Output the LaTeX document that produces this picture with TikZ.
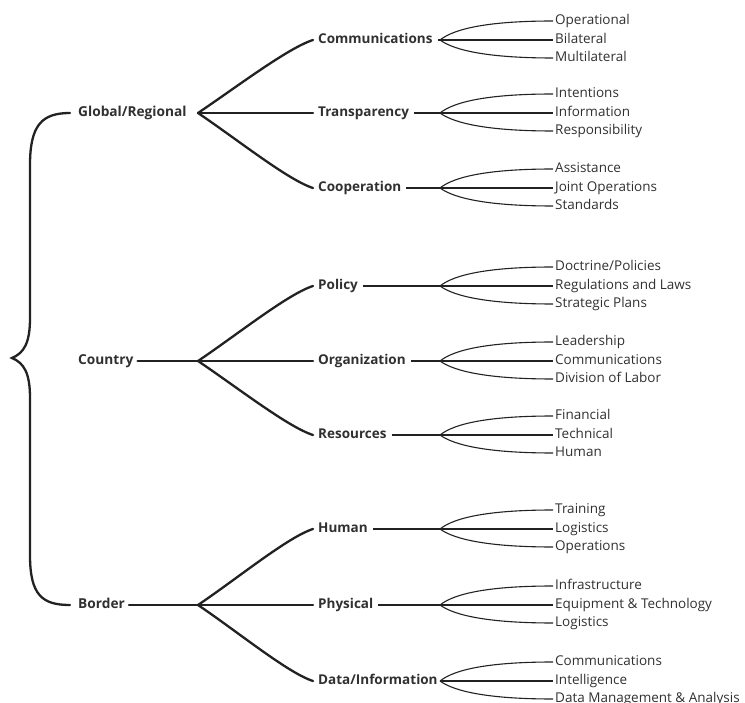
\documentclass[tikz,border=0pt]{standalone}
\usepackage{fontspec}
\setmainfont{Open Sans}
\definecolor{ink}{HTML}{222222}
\definecolor{txt}{HTML}{303030}
\newcommand\mygroup[6]{%
  \node[ltwo] (#1) at (313,#2) {#3};
  \coordinate (#1b) at (440,#2);
  \node[leaf] (#1x) at (553,#2-19) {#4};
  \node[leaf] (#1y) at (553,#2) {#5};
  \node[leaf] (#1z) at (553,#2+18) {#6};
  \draw[thin2] (#1.east) -- (#1b);
  \draw[thin2] (#1b) .. controls +(15,-12) and +(-62,0) .. (#1x.west);
  \draw[thin2] (#1b) -- (#1y.west);
  \draw[thin2] (#1b) .. controls +(15,11) and +(-62,0) .. (#1z.west);
}
\begin{document}
\begin{tikzpicture}[x=1pt,y=-1pt,
  lone/.style={font=\bfseries\fontsize{13.7}{15}\selectfont, text=txt, anchor=west, inner ysep=0pt, inner xsep=4pt, text height=7pt, text depth=0pt},
  ltwo/.style={font=\bfseries\fontsize{13.5}{15}\selectfont, text=txt, anchor=west, inner ysep=0pt, inner xsep=5pt, text height=7pt, text depth=0pt},
  leaf/.style={font=\fontsize{13.5}{15}\selectfont, text=txt, anchor=west, inner ysep=0pt, inner xsep=2pt, text height=7pt, text depth=0pt},
  thick1/.style={draw=ink, line width=2.3pt, line cap=round},
  thin2/.style={draw=ink, line width=1.1pt}]
\useasboundingbox (0,0) rectangle (745,703);
% level 1
\node[lone] (glob) at (74,113) {Global/Regional};
\node[lone] (ctry) at (74,361) {Country};
\node[lone] (bord) at (74,605) {Border};
\coordinate (gb) at (198,113);
\coordinate (cb) at (198,361);
\coordinate (bb) at (198,605);
\coordinate (gend) at (70,113);
\coordinate (bend) at (70,605);
\coordinate (tip) at (12,358);
% brace
\draw[thick1] (gend) .. controls (42,113) and (30,125) .. (30,165) -- (30,318)
  .. controls (30,343) and (24,353) .. (tip)
  .. controls (24,363) and (30,373) .. (30,398) -- (30,555)
  .. controls (30,595) and (42,605) .. (bend);
% level 2 groups
\mygroup{gc}{40}{Communications}{Operational}{Bilateral}{Multilateral}
\mygroup{gt}{113}{Transparency}{Intentions}{Information}{Responsibility}
\mygroup{go}{188}{Cooperation}{Assistance}{Joint Operations}{Standards}
\mygroup{cp}{286}{Policy}{Doctrine/Policies}{Regulations and Laws}{Strategic Plans}
\mygroup{co}{361}{Organization}{Leadership}{Communications}{Division of Labor}
\mygroup{cr}{435}{Resources}{Financial}{Technical}{Human}
\mygroup{bh}{529}{Human}{Training}{Logistics}{Operations}
\mygroup{bp}{605}{Physical}{Infrastructure}{Equipment \& Technology}{Logistics}
\mygroup{bd}{681}{Data/Information}{Communications}{Intelligence}{Data Management \& Analysis}
% level 1 connectors
\draw[thick1] (ctry.east) -- (cb);
\draw[thick1] (bord.east) -- (bb);
\foreach \p/\u/\m/\d in {gb/gc/gt/go, cb/cp/co/cr, bb/bh/bp/bd}{
  \draw[thick1] (\p) .. controls +(40,-27) and +(-25,8) .. (\u.west);
  \draw[thick1] (\p) -- (\m.west);
  \draw[thick1] (\p) .. controls +(40,27) and +(-25,-8) .. (\d.west);
}
\end{tikzpicture}
\end{document}
